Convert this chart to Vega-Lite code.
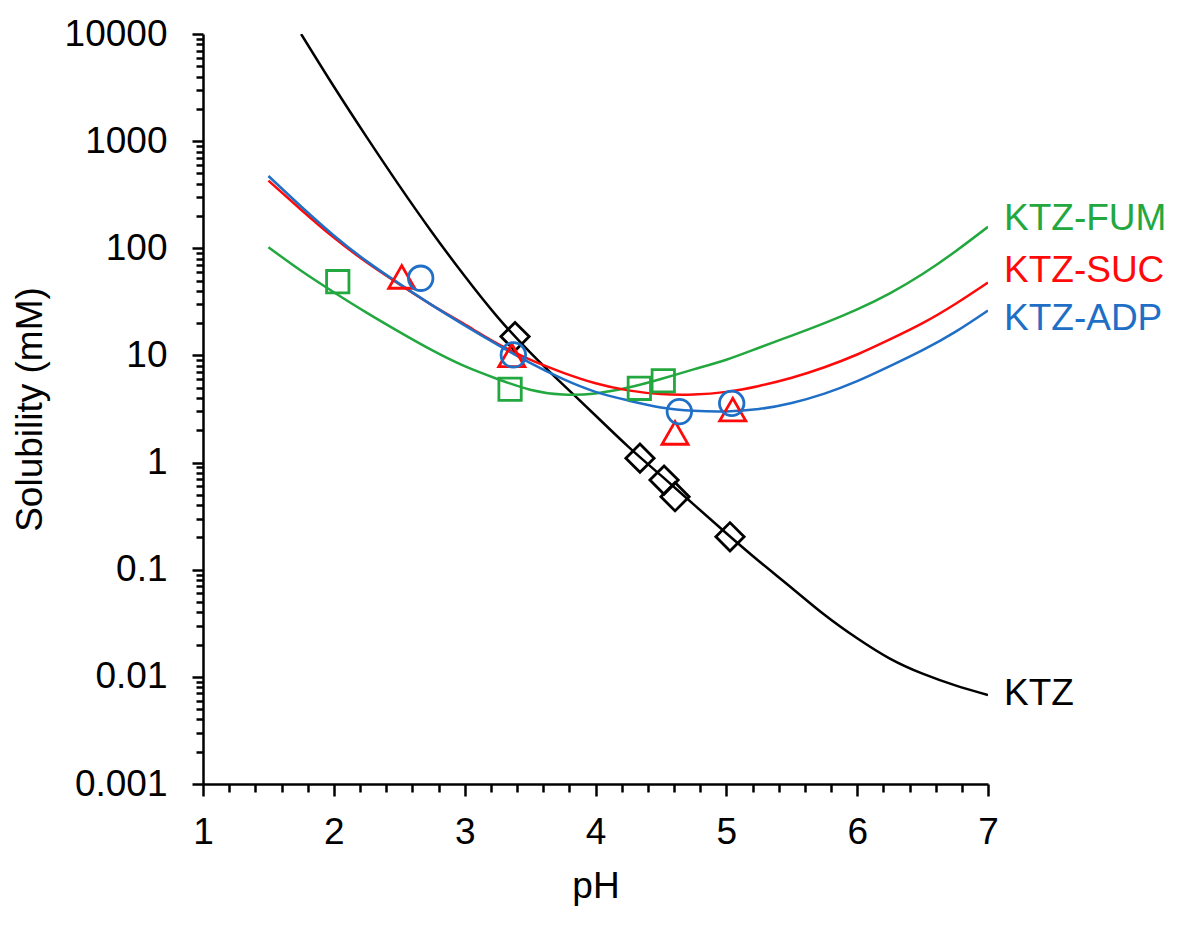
{
  "$schema": "https://vega.github.io/schema/vega-lite/v6.json",
  "width": 785,
  "height": 750,
  "autosize": {"type": "none"},
  "padding": {"left": 203, "top": 34, "right": 198, "bottom": 149},
  "background": "white",
  "config": {
    "view": {"stroke": null},
    "font": "Liberation Sans",
    "axis": {
      "domainColor": "black",
      "domainWidth": 2.5,
      "tickColor": "black",
      "tickWidth": 2.5,
      "labelColor": "black",
      "labelFontSize": 37,
      "labelFont": "Liberation Sans",
      "titleFont": "Liberation Sans",
      "titleFontSize": 37,
      "titleFontWeight": "normal",
      "titleColor": "black",
      "grid": false,
      "labelOverlap": false,
      "labelBound": false,
      "labelFlush": false
    }
  },
  "datasets": {
    "curves": [
      {"series": "KTZ", "pH": 1.75, "sol": 10000},
      {"series": "KTZ", "pH": 2.0, "sol": 3236},
      {"series": "KTZ", "pH": 2.25, "sol": 1096},
      {"series": "KTZ", "pH": 2.5, "sol": 384.6},
      {"series": "KTZ", "pH": 2.75, "sol": 141.3},
      {"series": "KTZ", "pH": 3.0, "sol": 55.0},
      {"series": "KTZ", "pH": 3.25, "sol": 22.9},
      {"series": "KTZ", "pH": 3.5, "sol": 10.7},
      {"series": "KTZ", "pH": 3.75, "sol": 5.37},
      {"series": "KTZ", "pH": 4.0, "sol": 2.75},
      {"series": "KTZ", "pH": 4.25, "sol": 1.41},
      {"series": "KTZ", "pH": 4.5, "sol": 0.759},
      {"series": "KTZ", "pH": 4.75, "sol": 0.407},
      {"series": "KTZ", "pH": 5.0, "sol": 0.219},
      {"series": "KTZ", "pH": 5.25, "sol": 0.120},
      {"series": "KTZ", "pH": 5.5, "sol": 0.0676},
      {"series": "KTZ", "pH": 5.75, "sol": 0.0380},
      {"series": "KTZ", "pH": 6.0, "sol": 0.0229},
      {"series": "KTZ", "pH": 6.25, "sol": 0.0148},
      {"series": "KTZ", "pH": 6.5, "sol": 0.0107},
      {"series": "KTZ", "pH": 6.75, "sol": 0.00832},
      {"series": "KTZ", "pH": 7.0, "sol": 0.00676},

      {"series": "KTZ-FUM", "pH": 1.5, "sol": 102.3},
      {"series": "KTZ-FUM", "pH": 1.75, "sol": 61.7},
      {"series": "KTZ-FUM", "pH": 2.0, "sol": 38.9},
      {"series": "KTZ-FUM", "pH": 2.25, "sol": 25.1},
      {"series": "KTZ-FUM", "pH": 2.5, "sol": 16.6},
      {"series": "KTZ-FUM", "pH": 2.75, "sol": 11.2},
      {"series": "KTZ-FUM", "pH": 3.0, "sol": 7.94},
      {"series": "KTZ-FUM", "pH": 3.25, "sol": 6.03},
      {"series": "KTZ-FUM", "pH": 3.5, "sol": 4.79},
      {"series": "KTZ-FUM", "pH": 3.75, "sol": 4.32},
      {"series": "KTZ-FUM", "pH": 4.0, "sol": 4.42},
      {"series": "KTZ-FUM", "pH": 4.25, "sol": 5.01},
      {"series": "KTZ-FUM", "pH": 4.5, "sol": 6.03},
      {"series": "KTZ-FUM", "pH": 4.75, "sol": 7.41},
      {"series": "KTZ-FUM", "pH": 5.0, "sol": 9.12},
      {"series": "KTZ-FUM", "pH": 5.25, "sol": 11.8},
      {"series": "KTZ-FUM", "pH": 5.5, "sol": 15.3},
      {"series": "KTZ-FUM", "pH": 5.75, "sol": 20.0},
      {"series": "KTZ-FUM", "pH": 6.0, "sol": 26.9},
      {"series": "KTZ-FUM", "pH": 6.25, "sol": 38.0},
      {"series": "KTZ-FUM", "pH": 6.5, "sol": 57.5},
      {"series": "KTZ-FUM", "pH": 6.75, "sol": 93.3},
      {"series": "KTZ-FUM", "pH": 7.0, "sol": 158.5},

      {"series": "KTZ-SUC", "pH": 1.5, "sol": 427.6},
      {"series": "KTZ-SUC", "pH": 1.75, "sol": 229.1},
      {"series": "KTZ-SUC", "pH": 2.0, "sol": 125.9},
      {"series": "KTZ-SUC", "pH": 2.25, "sol": 74.1},
      {"series": "KTZ-SUC", "pH": 2.5, "sol": 46.2},
      {"series": "KTZ-SUC", "pH": 2.75, "sol": 29.5},
      {"series": "KTZ-SUC", "pH": 3.0, "sol": 19.5},
      {"series": "KTZ-SUC", "pH": 3.25, "sol": 12.9},
      {"series": "KTZ-SUC", "pH": 3.5, "sol": 9.12},
      {"series": "KTZ-SUC", "pH": 3.75, "sol": 6.92},
      {"series": "KTZ-SUC", "pH": 4.0, "sol": 5.50},
      {"series": "KTZ-SUC", "pH": 4.25, "sol": 4.72},
      {"series": "KTZ-SUC", "pH": 4.5, "sol": 4.36},
      {"series": "KTZ-SUC", "pH": 4.75, "sol": 4.32},
      {"series": "KTZ-SUC", "pH": 5.0, "sol": 4.57},
      {"series": "KTZ-SUC", "pH": 5.25, "sol": 5.19},
      {"series": "KTZ-SUC", "pH": 5.5, "sol": 6.19},
      {"series": "KTZ-SUC", "pH": 5.75, "sol": 7.76},
      {"series": "KTZ-SUC", "pH": 6.0, "sol": 10.2},
      {"series": "KTZ-SUC", "pH": 6.25, "sol": 14.1},
      {"series": "KTZ-SUC", "pH": 6.5, "sol": 20.0},
      {"series": "KTZ-SUC", "pH": 6.75, "sol": 30.2},
      {"series": "KTZ-SUC", "pH": 7.0, "sol": 47.9},

      {"series": "KTZ-ADP", "pH": 1.5, "sol": 473},
      {"series": "KTZ-ADP", "pH": 1.75, "sol": 245.5},
      {"series": "KTZ-ADP", "pH": 2.0, "sol": 131.8},
      {"series": "KTZ-ADP", "pH": 2.25, "sol": 75.9},
      {"series": "KTZ-ADP", "pH": 2.5, "sol": 46.8},
      {"series": "KTZ-ADP", "pH": 2.75, "sol": 29.5},
      {"series": "KTZ-ADP", "pH": 3.0, "sol": 19.1},
      {"series": "KTZ-ADP", "pH": 3.25, "sol": 12.6},
      {"series": "KTZ-ADP", "pH": 3.5, "sol": 8.51},
      {"series": "KTZ-ADP", "pH": 3.75, "sol": 6.03},
      {"series": "KTZ-ADP", "pH": 4.0, "sol": 4.57},
      {"series": "KTZ-ADP", "pH": 4.25, "sol": 3.80},
      {"series": "KTZ-ADP", "pH": 4.5, "sol": 3.27},
      {"series": "KTZ-ADP", "pH": 4.75, "sol": 3.04},
      {"series": "KTZ-ADP", "pH": 5.0, "sol": 3.0},
      {"series": "KTZ-ADP", "pH": 5.25, "sol": 3.16},
      {"series": "KTZ-ADP", "pH": 5.5, "sol": 3.6},
      {"series": "KTZ-ADP", "pH": 5.75, "sol": 4.4},
      {"series": "KTZ-ADP", "pH": 6.0, "sol": 5.75},
      {"series": "KTZ-ADP", "pH": 6.25, "sol": 7.94},
      {"series": "KTZ-ADP", "pH": 6.5, "sol": 11.2},
      {"series": "KTZ-ADP", "pH": 6.75, "sol": 16.6},
      {"series": "KTZ-ADP", "pH": 7.0, "sol": 26.3}
    ],
    "points": [
      {"series": "KTZ", "pH": 3.385, "sol": 15.0},
      {"series": "KTZ", "pH": 4.34, "sol": 1.10},
      {"series": "KTZ", "pH": 4.524, "sol": 0.687},
      {"series": "KTZ", "pH": 4.608, "sol": 0.48},
      {"series": "KTZ", "pH": 5.028, "sol": 0.203},
      {"series": "KTZ-FUM", "pH": 2.03, "sol": 48.8},
      {"series": "KTZ-FUM", "pH": 3.347, "sol": 4.83},
      {"series": "KTZ-FUM", "pH": 4.335, "sol": 4.93},
      {"series": "KTZ-FUM", "pH": 4.518, "sol": 5.8},
      {"series": "KTZ-SUC", "pH": 2.519, "sol": 54},
      {"series": "KTZ-SUC", "pH": 3.36, "sol": 10.0},
      {"series": "KTZ-SUC", "pH": 4.608, "sol": 1.89},
      {"series": "KTZ-SUC", "pH": 5.049, "sol": 3.12},
      {"series": "KTZ-ADP", "pH": 2.664, "sol": 52.5},
      {"series": "KTZ-ADP", "pH": 3.372, "sol": 10.1},
      {"series": "KTZ-ADP", "pH": 4.641, "sol": 2.99},
      {"series": "KTZ-ADP", "pH": 5.041, "sol": 3.57}
    ],
    "labels": [
      {"series": "KTZ-FUM", "pH": 7, "sol": 187.5},
      {"series": "KTZ-SUC", "pH": 7, "sol": 61.4},
      {"series": "KTZ-ADP", "pH": 7, "sol": 21.9},
      {"series": "KTZ", "pH": 7, "sol": 0.00692}
    ]
  },
  "encoding": {
    "x": {
      "field": "pH",
      "type": "quantitative",
      "scale": {"domain": [1, 7], "nice": false, "zero": false},
      "axis": {
        "title": "pH",
        "values": [1,1.2,1.4,1.6,1.8,2,2.2,2.4,2.6,2.8,3,3.2,3.4,3.6,3.8,4,4.2,4.4,4.6,4.8,5,5.2,5.4,5.6,5.8,6,6.2,6.4,6.6,6.8,7],
        "labelExpr": "abs(datum.value - round(datum.value)) < 0.001 ? format(datum.value, 'd') : ''",
        "tickSize": {"condition": {"test": "abs(datum.value - round(datum.value)) < 0.001", "value": 12}, "value": 8},
        "labelPadding": 18,
        "titlePadding": 18
      }
    },
    "y": {
      "field": "sol",
      "type": "quantitative",
      "scale": {"type": "log", "domain": [0.001, 10000], "nice": false},
      "axis": {
        "title": "Solubility (mM)",
        "values": [0.001,0.002,0.003,0.004,0.005,0.006,0.007,0.008,0.009,0.01,0.02,0.03,0.04,0.05,0.06,0.07,0.08,0.09,0.1,0.2,0.3,0.4,0.5,0.6,0.7,0.8,0.9,1,2,3,4,5,6,7,8,9,10,20,30,40,50,60,70,80,90,100,200,300,400,500,600,700,800,900,1000,2000,3000,4000,5000,6000,7000,8000,9000,10000],
        "labelExpr": "abs(log(datum.value)/LN10 - round(log(datum.value)/LN10)) < 0.0001 ? format(datum.value, '~g') : ''",
        "tickSize": {"condition": {"test": "abs(log(datum.value)/LN10 - round(log(datum.value)/LN10)) < 0.0001", "value": 11}, "value": 7},
        "labelPadding": 25,
        "titlePadding": 15
      }
    },
    "color": {
      "field": "series",
      "type": "nominal",
      "scale": {"domain": ["KTZ", "KTZ-FUM", "KTZ-SUC", "KTZ-ADP"], "range": ["#000000", "#23a83f", "#ff0a0a", "#1f6fc6"]},
      "legend": null
    }
  },
  "layer": [
    {
      "data": {"name": "curves"},
      "mark": {"type": "line", "interpolate": "natural", "strokeWidth": 2.5, "clip": true}
    },
    {
      "data": {"name": "points"},
      "transform": [{"filter": "datum.series === 'KTZ'"}],
      "mark": {"type": "point", "shape": "diamond", "filled": false, "size": 800, "strokeWidth": 2.8, "opacity": 1}
    },
    {
      "data": {"name": "points"},
      "transform": [{"filter": "datum.series === 'KTZ-FUM'"}],
      "mark": {"type": "point", "shape": "square", "filled": false, "size": 500, "strokeWidth": 2.8, "opacity": 1}
    },
    {
      "data": {"name": "points"},
      "transform": [{"filter": "datum.series === 'KTZ-SUC'"}],
      "mark": {"type": "point", "shape": "triangle-up", "filled": false, "size": 680, "strokeWidth": 2.8, "opacity": 1}
    },
    {
      "data": {"name": "points"},
      "transform": [{"filter": "datum.series === 'KTZ-ADP'"}],
      "mark": {"type": "point", "shape": "circle", "filled": false, "size": 600, "strokeWidth": 2.8, "opacity": 1}
    },
    {
      "data": {"name": "labels"},
      "mark": {"type": "text", "align": "left", "baseline": "middle", "dx": 16, "fontSize": 37, "font": "Liberation Sans"},
      "encoding": {"text": {"field": "series"}}
    }
  ]
}
